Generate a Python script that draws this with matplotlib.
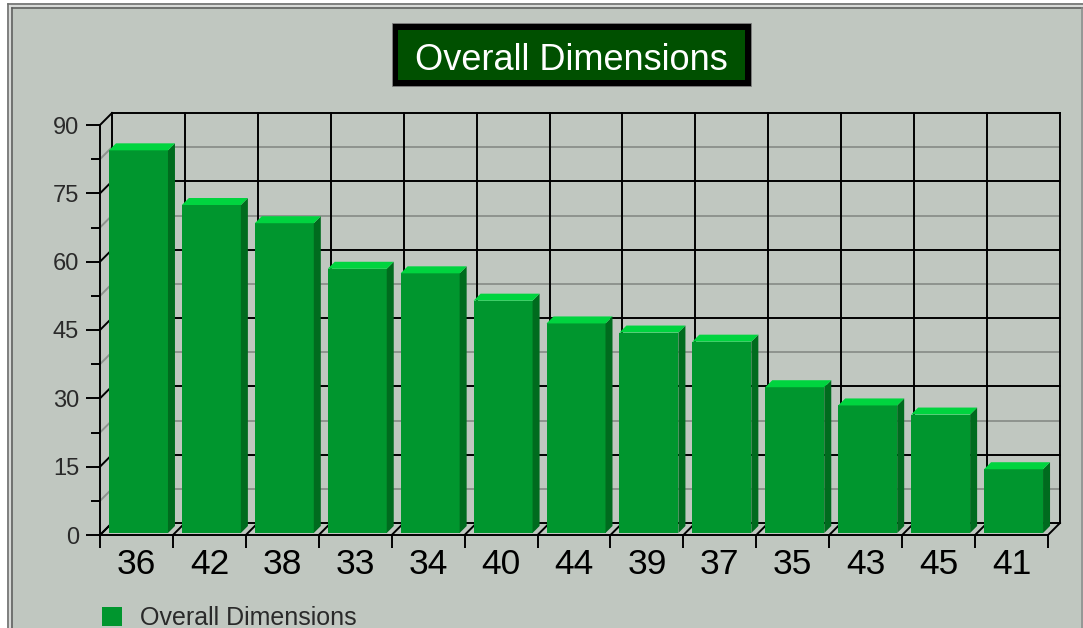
import matplotlib
matplotlib.use("Agg")
import matplotlib.pyplot as plt
from matplotlib.patches import Rectangle, Polygon
from matplotlib.lines import Line2D
import numpy as np

plt.rcParams['font.family'] = ['Liberation Sans', 'DejaVu Sans']

# chart data
labels = ['36', '42', '38', '33', '34', '40', '44', '39', '37', '35', '43', '45', '41']
values = [84, 72, 68, 58, 57, 51, 46, 44, 42, 32, 28, 26, 14]
series_name = 'Overall Dimensions'

BG = '#C0C7C0'
FRONT = '#00962E'
SIDE = '#006B1E'
TOP = '#00D43F'

W, H = 1083, 628
fig = plt.figure(figsize=(W / 100, H / 100), dpi=100, facecolor=BG)


def fx(px):
    return px / W


def fy(py):
    return 1 - py / H


# front plane of the plot
ax = fig.add_axes([fx(100), fy(535), fx(1048) - fx(100), fy(125) - fy(535)])
ax.set_facecolor('none')
n = len(values)
ax.set_xlim(-0.5, n - 0.5)
ax.set_ylim(0, 90)

# pixel -> data conversions for the depth offsets
sx = (1048 - 100) / n
sy = (535 - 125) / 90.0
wall = 12      # depth of the back wall, px
bfront = 2     # bar front face depth, px
bback = 9      # bar back face depth, px
wdx, wdy = wall / sx, wall / sy
fdx, fdy = bfront / sx, bfront / sy
bdx, bdy = bback / sx, bback / sy

lw = 1.4
major = np.arange(0, 91, 15)
minor = np.arange(7.5, 90, 15)
bounds = np.arange(n + 1) - 0.5

# back wall grid
for v in minor:
    ax.plot([-0.5 + wdx, n - 0.5 + wdx], [v + wdy, v + wdy], color='#8E938E',
            lw=lw, clip_on=False, zorder=1)
    ax.plot([-0.5, -0.5 + wdx], [v, v + wdy], color='#8E938E', lw=lw,
            clip_on=False, zorder=1)
for v in major:
    ax.plot([-0.5 + wdx, n - 0.5 + wdx], [v + wdy, v + wdy], color='black',
            lw=lw, clip_on=False, zorder=2)
    ax.plot([-0.5, -0.5 + wdx], [v, v + wdy], color='black', lw=lw,
            clip_on=False, zorder=2)
for b in bounds:
    ax.plot([b + wdx, b + wdx], [wdy, 90 + wdy], color='black', lw=lw,
            clip_on=False, zorder=2)
    ax.plot([b, b + wdx], [0, wdy], color='black', lw=lw, clip_on=False,
            zorder=2)

# bars: front face, right side and top
x = np.arange(n)
bw = 59 / sx
ax.bar(x + fdx, values, width=bw, bottom=fdy, color=FRONT, zorder=3,
       linewidth=0, label=series_name)
for xi, v in zip(x, values):
    r = xi + bw / 2
    l = xi - bw / 2
    side = [(r + fdx, fdy), (r + bdx, bdy), (r + bdx, v + bdy), (r + fdx, v + fdy)]
    top = [(l + fdx, v + fdy), (l + bdx, v + bdy), (r + bdx, v + bdy), (r + fdx, v + fdy)]
    ax.add_patch(Polygon(side, closed=True, fc=SIDE, ec='none', zorder=3,
                         clip_on=False))
    ax.add_patch(Polygon(top, closed=True, fc=TOP, ec='none', zorder=3,
                         clip_on=False))

# axes, ticks and labels
for s in ['top', 'right']:
    ax.spines[s].set_visible(False)
for s in ['left', 'bottom']:
    ax.spines[s].set_linewidth(lw)
    ax.spines[s].set_zorder(4)

ax.set_yticks(major)
ax.set_yticks(minor, minor=True)
ax.tick_params(axis='y', which='major', length=10, width=lw, pad=5,
               labelsize=17, labelcolor='#2A2A2A')
ax.tick_params(axis='y', which='minor', length=6.5, width=lw)
ax.set_xticks(bounds)
ax.set_xticklabels([])
ax.set_xticks(x, minor=True)
ax.set_xticklabels(labels, minor=True)
ax.tick_params(axis='x', which='major', length=9.5, width=lw)
ax.tick_params(axis='x', which='minor', length=0, pad=9, labelsize=25.5,
               labelcolor='black')

# title box
fig.patches.append(Rectangle((fx(392), fy(86)), fx(751) - fx(392), fy(23) - fy(86),
                             transform=fig.transFigure, fc='black', ec='#808080',
                             lw=0.6))
fig.patches.append(Rectangle((fx(398), fy(80)), fx(745) - fx(398), fy(30) - fy(80),
                             transform=fig.transFigure, fc='#005000', ec='none'))
fig.text(fx(571), fy(70), series_name, color='white', fontsize=26,
         ha='center', va='baseline')

# legend
fig.legend(loc='upper left', bbox_to_anchor=(fx(102), fy(606)), frameon=False,
           fontsize=18, labelcolor='#2A2A2A', handlelength=0.78, handleheight=0.78,
           handletextpad=0.72, borderpad=0, borderaxespad=0)

# outer frame
fig.patches.append(Rectangle((0, 0), fx(7), 1, transform=fig.transFigure,
                             fc='white', ec='none'))
fig.patches.append(Rectangle((0, fy(3)), 1, 1 - fy(3), transform=fig.transFigure,
                             fc='white', ec='none'))
for px, c in [(8, '#6E6E6E'), (10, '#E0E0E0'), (12, '#5A5A5A')]:
    fig.lines.append(Line2D([fx(px), fx(px)], [0, fy(px - 4)], color=c, lw=1.1,
                            transform=fig.transFigure))
    fig.lines.append(Line2D([fx(px), 1], [fy(px - 4), fy(px - 4)], color=c, lw=1.1,
                            transform=fig.transFigure))
fig.lines.append(Line2D([fx(1082), fx(1082)], [0, fy(8)], color='#8A8A8A', lw=1.1,
                        transform=fig.transFigure))

fig.savefig('out.png', dpi=100, facecolor=BG)
